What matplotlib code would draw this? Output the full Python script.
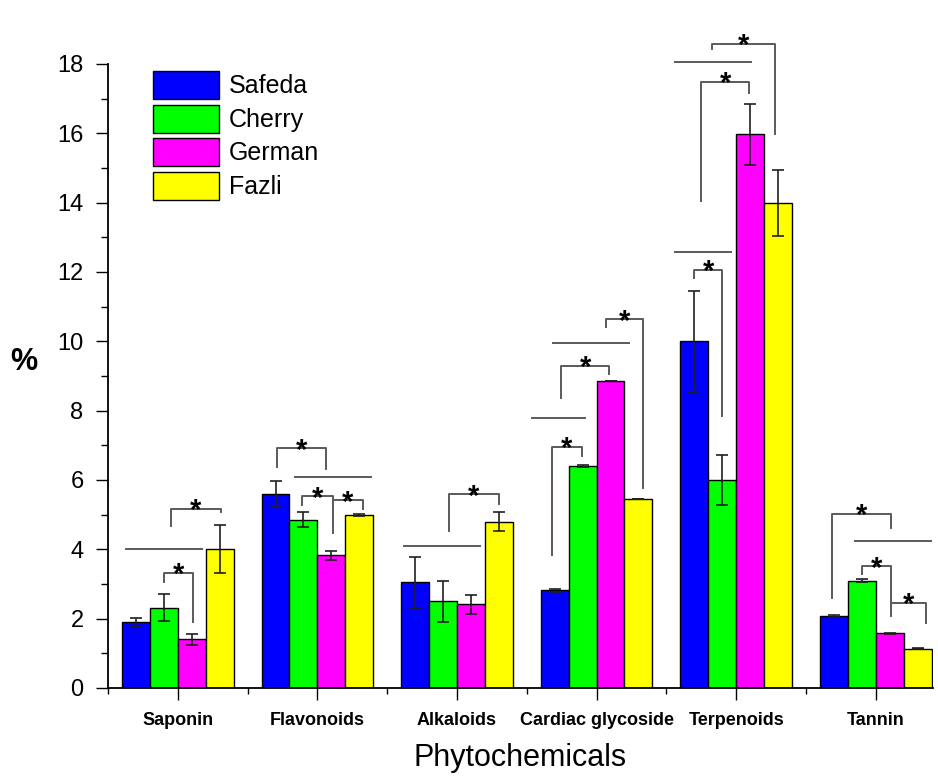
import numpy as np
import matplotlib.pyplot as plt
from matplotlib.ticker import MultipleLocator, FixedLocator

plt.rcParams['font.family'] = ['Liberation Sans', 'DejaVu Sans']

categories = ['Saponin', 'Flavonoids', 'Alkaloids', 'Cardiac glycoside', 'Terpenoids', 'Tannin']
cultivars = ['Safeda', 'Cherry', 'German', 'Fazli']
colors = ['#0000FF', '#00FF00', '#FF00FF', '#FFFF00']

safeda = [1.9, 5.6, 3.05, 2.82, 10.0, 2.08]
safeda_err = [0.12, 0.36, 0.74, 0.04, 1.46, 0.02]
cherry = [2.32, 4.85, 2.5, 6.4, 6.0, 3.1]
cherry_err = [0.4, 0.22, 0.6, 0.03, 0.72, 0.05]
german = [1.4, 3.83, 2.41, 8.85, 15.97, 1.58]
german_err = [0.17, 0.13, 0.27, 0.0, 0.87, 0.02]
fazli = [4.01, 4.98, 4.8, 5.45, 14.0, 1.13]
fazli_err = [0.7, 0.03, 0.28, 0.0, 0.95, 0.01]

# significance brackets: x left, x right, top, bottom of left leg, bottom of right leg
brackets = [
    (-0.052, 0.308, 5.17, 4.67, 5.08),
    (-0.102, 0.11, 3.33, 3.07, 1.91),
    (0.714, 1.062, 6.91, 6.37, 6.32),
    (0.89, 1.112, 5.53, 5.27, 4.48),
    (1.112, 1.327, 5.41, 5.41, 5.17),
    (1.94, 2.30, 5.59, 4.54, 5.30),
    (2.682, 2.894, 6.96, 3.83, 6.68),
    (2.747, 3.092, 9.30, 8.36, 9.05),
    (3.069, 3.331, 10.63, 10.42, 5.76),
    (3.70, 3.899, 12.06, 11.82, 7.85),
    (3.749, 4.095, 17.49, 14.06, 17.17),
    (3.825, 4.28, 18.59, 18.42, 15.98),
    (4.69, 5.11, 5.03, 2.59, 4.62),
    (4.90, 5.11, 3.51, 3.29, 2.09),
    (5.11, 5.36, 2.46, 2.46, 1.87),
]
# loose horizontal lines
hlines = [
    (-0.372, 0.17, 4.01),
    (0.842, 1.387, 6.09),
    (1.62, 2.167, 4.10),
    (2.536, 2.92, 7.80),
    (2.687, 3.23, 9.95),
    (3.563, 3.96, 12.57),
    (3.563, 4.107, 18.05),
    (4.853, 5.395, 4.24),
]

fig = plt.figure(figsize=(9.38, 7.76), dpi=100)
ax = fig.add_axes([108/938, 88/776, 825/938, 624/776])

x = np.arange(len(categories))
width = 0.2
series = [(safeda, safeda_err), (cherry, cherry_err), (german, german_err), (fazli, fazli_err)]
for j, (vals, errs) in enumerate(series):
    ax.bar(x + (j - 1.5) * width, vals, width, yerr=errs, color=colors[j],
           edgecolor='black', linewidth=1, label=cultivars[j],
           error_kw=dict(ecolor='#202020', elinewidth=1.2, capsize=4.5, capthick=1.2))

line_col = '#5a5a5a'
for xl, xr, yt, yl, yr in brackets:
    ax.plot([xl, xl, xr, xr], [yl, yt, yt, yr], color=line_col, lw=1.4, clip_on=False)
    ax.annotate('*', xy=((xl + xr) / 2, yt), xytext=(0, -7.5), textcoords='offset points',
                ha='center', va='baseline', fontsize=21, fontweight='bold',
                annotation_clip=False)
for x0, x1, y in hlines:
    ax.plot([x0, x1], [y, y], color=line_col, lw=1.4, clip_on=False)

ax.set_xlim(-0.5, 5.41)
ax.set_ylim(0, 18)
ax.spines['top'].set_visible(False)
ax.spines['right'].set_visible(False)
for s in ['left', 'bottom']:
    ax.spines[s].set_linewidth(1.3)

ax.yaxis.set_major_locator(MultipleLocator(2))
ax.yaxis.set_minor_locator(MultipleLocator(1))
ax.set_xticks(x)
ax.set_xticklabels(categories, fontsize=13, fontweight='bold')
ax.xaxis.set_minor_locator(FixedLocator(np.arange(-0.5, 5, 1)))
ax.tick_params(axis='y', which='major', length=8.6, width=1, labelsize=17, pad=9)
ax.tick_params(axis='y', which='minor', length=5, width=1)
ax.tick_params(axis='x', which='major', length=8.6, width=1, pad=9)
ax.tick_params(axis='x', which='minor', length=4.3, width=1)

ax.set_xlabel('Phytochemicals', fontsize=22, labelpad=10)
fig.text(24/938, 1 - 362/776, '%', fontsize=22, fontweight='bold', ha='center', va='center')

ax.legend(loc='upper left', bbox_to_anchor=(153/938, 1 - 71/776), bbox_transform=fig.transFigure,
          frameon=False, fontsize=18, handlelength=2.64, handleheight=1.35,
          labelspacing=0.22, handletextpad=0.4, borderpad=0, borderaxespad=0)

fig.savefig('out.png', dpi=100)
